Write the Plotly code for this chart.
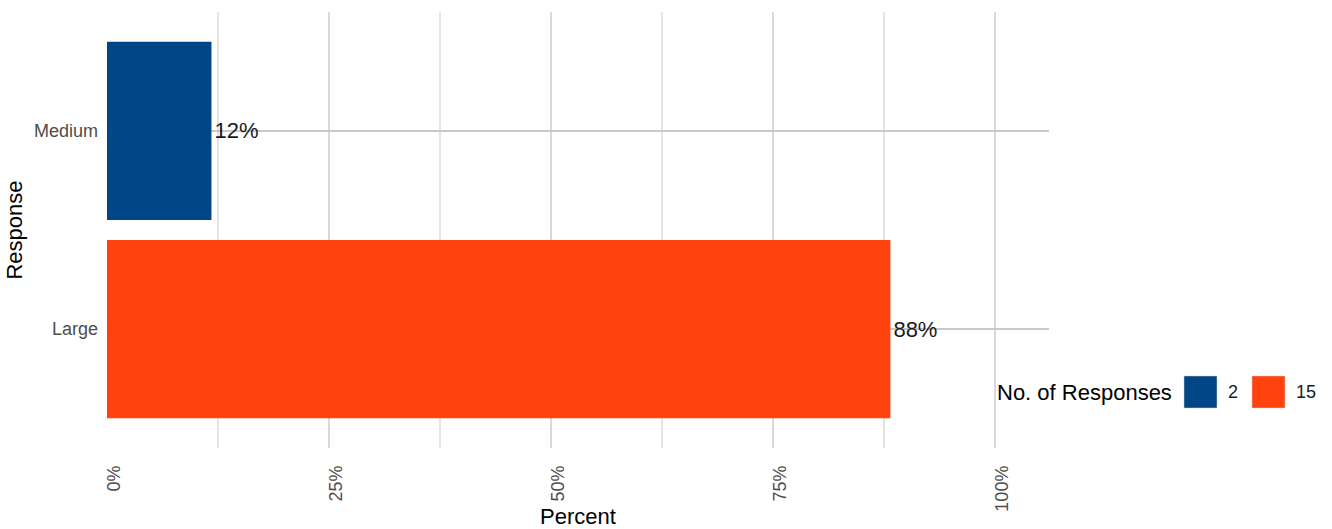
import plotly.graph_objects as go

# Survey responses: size category and number of people who chose it
categories = ["Medium", "Large"]
counts = [2, 15]
colors = ["#004586", "#ff420e"]
x_ticks = [0, 25, 50, 75, 100]
x_tick_labels = ["0%", "25%", "50%", "75%", "100%"]

total = sum(counts)
percents = [c / total * 100 for c in counts]
labels = [f"{round(p)}%" for p in percents]

FONT = "Liberation Sans, Arial, sans-serif"
W, H = 1332, 529
M_L, M_R, M_T, M_B = 107, 283, 12, 81

fig = go.Figure()
for cat, pct, lab, col in zip(categories, percents, labels, colors):
    fig.add_trace(go.Bar(
        y=[cat], x=[pct], orientation="h",
        marker=dict(color=col, line=dict(width=0)),
        width=0.9,
        text=[lab], textposition="outside",
        textfont=dict(family=FONT, size=22, color="#1a1a1a"),
        cliponaxis=False,
        showlegend=False,
    ))

# Legend drawn by hand: title, coloured swatches and counts in a row
def px_x(px):
    return (px - M_L) / (W - M_L - M_R)

def px_y(py):
    return (H - M_B - py) / (H - M_T - M_B)

leg_y = 392
fig.add_annotation(
    xref="paper", yref="paper", x=px_x(1174), y=px_y(leg_y),
    xanchor="right", yanchor="middle", showarrow=False,
    text="No. of Responses", font=dict(family=FONT, size=22, color="#000"),
)
sw_left = [1184, 1252]
for left, n, col in zip(sw_left, counts, colors):
    fig.add_shape(
        type="rect", xref="paper", yref="paper",
        x0=px_x(left), x1=px_x(left + 33),
        y0=px_y(leg_y + 16), y1=px_y(leg_y - 16),
        fillcolor=col, line=dict(width=0.5, color="#d0d0d0"),
    )
    fig.add_annotation(
        xref="paper", yref="paper", x=px_x(left + 42), y=px_y(leg_y),
        xanchor="left", yanchor="middle", showarrow=False,
        text=str(n), font=dict(family=FONT, size=18, color="#1a1a1a"),
    )

fig.update_layout(
    width=W, height=H,
    margin=dict(l=M_L, r=M_R, t=M_T, b=M_B, autoexpand=False),
    paper_bgcolor="white", plot_bgcolor="white",
    font=dict(family=FONT),
    bargap=0.1,
)
fig.update_xaxes(
    range=[0, 106.1],
    tickvals=x_ticks, ticktext=x_tick_labels,
    tickangle=-90, ticklabelshift=7, ticklabelstandoff=13,
    tickfont=dict(family=FONT, size=18, color="#4d4d4d"),
    showgrid=True, gridcolor="#d9d9d9", gridwidth=1.6,
    minor=dict(dtick=12.5, tick0=0, showgrid=True, gridcolor="#e4e4e4", gridwidth=1.6),
    zeroline=False, showline=False, ticks="",
    title=dict(text="Percent", font=dict(family=FONT, size=22, color="#000"), standoff=2),
)
fig.update_yaxes(
    categoryorder="array", categoryarray=categories[::-1],
    range=[-0.6, 1.6],
    tickfont=dict(family=FONT, size=18, color="#4d4d4d"),
    ticklabelstandoff=8,
    showgrid=True, gridcolor="#c9c9c9", gridwidth=2,
    zeroline=False, showline=False, ticks="",
    title=dict(text="Response", font=dict(family=FONT, size=22, color="#000"), standoff=5),
)

fig.write_html("out.html")
